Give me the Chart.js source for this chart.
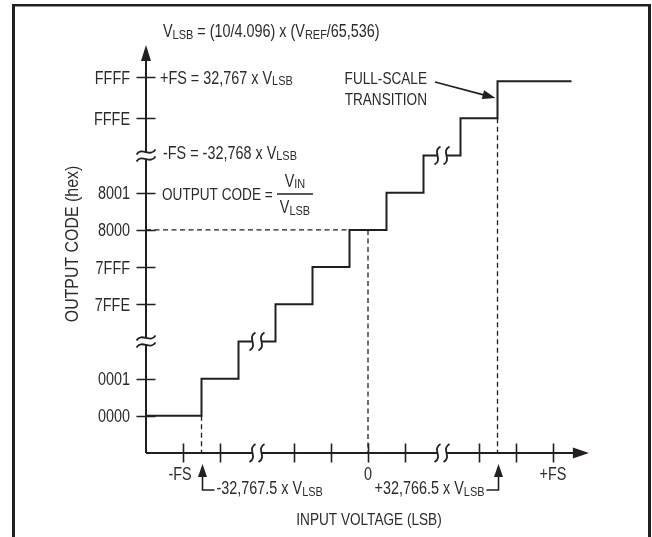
<!DOCTYPE html>
<html>
<head>
<meta charset="utf-8">
<script src="https://cdn.jsdelivr.net/npm/chart.js@4.4.1/dist/chart.umd.min.js"></script>
<style>
  html, body { margin: 0; padding: 0; background: #fff; }
  #wrap { width: 652px; height: 537px; }
</style>
</head>
<body>
<div id="wrap"><canvas id="c" width="652" height="537"></canvas></div>
<script>
// ---- data (axis units: one tick step = 1) ----
const stairX = [0, 1.5, 2.5, 3.5, 4.5, 5.5, 6.5, 7.5, 8.5, 9.5, 11.5];
const stairY = [1, 2, 3, 4, 5, 6, 7, 8, 9, 10, 10];
const guideMidH = [[0, 6], [5.5, 6]];
const guideLeftV = [[1.5, 1], [1.5, 0]];
const guideZeroV = [[6, 6], [6, 0]];
const guideRightV = [[9.5, 9], [9.5, 0]];
const yTickValues = [1, 2, 4, 5, 6, 7, 9, 10.1];
const yTickLabels = ['0000', '0001', '7FFE', '7FFF', '8000', '8001', 'FFFE', 'FFFF'];
const xTickValues = [1, 2, 4, 5, 6, 7, 9, 10, 11];
const xLabelValues = [1, 6, 11];
const xLabelTexts = ['-FS', '0', '+FS'];
const breakValues = [3, 8];
const xAxisEnd = 11.97;
const yAxisEnd = 10.97;

const INK = '#231f20';
const TXT = '#2b2b2b';
const FONT = '"Liberation Sans", Arial, sans-serif';
const SX = 0.8;

function toPts(a) { return a.map(p => ({ x: p[0], y: p[1] })); }

function rich(ctx, segs, x, y, align, size, sx) {
  const k = sx || SX;
  const sub = size * 0.76;
  const ws = segs.map(s => {
    ctx.font = (s[1] ? sub : size) + 'px ' + FONT;
    return ctx.measureText(s[0]).width * k;
  });
  const w = ws.reduce((a, b) => a + b, 0);
  let cx = align === 'right' ? x - w : align === 'center' ? x - w / 2 : x;
  ctx.fillStyle = TXT;
  ctx.textAlign = 'left';
  ctx.textBaseline = 'alphabetic';
  segs.forEach((s, i) => {
    ctx.save();
    ctx.font = (s[1] ? sub : size) + 'px ' + FONT;
    ctx.translate(cx, y + (s[1] ? 1.5 : 0));
    ctx.scale(k, 1);
    ctx.fillText(s[0], 0, 0);
    ctx.restore();
    cx += ws[i];
  });
  return w;
}

function tri(ctx, pts) {
  ctx.beginPath();
  ctx.moveTo(pts[0][0], pts[0][1]);
  ctx.lineTo(pts[1][0], pts[1][1]);
  ctx.lineTo(pts[2][0], pts[2][1]);
  ctx.closePath();
  ctx.fill();
}

// vertical squiggle pair interrupting a horizontal line
function breakOnH(ctx, cx, cy) {
  ctx.fillStyle = '#fff';
  ctx.fillRect(cx - 4, cy - 3, 8, 6);
  ctx.strokeStyle = INK;
  ctx.lineWidth = 1.8;
  [cx - 4.5, cx + 4.5].forEach(x => {
    ctx.beginPath();
    ctx.moveTo(x + 3, cy - 9);
    ctx.bezierCurveTo(x - 6, cy - 4, x + 6, cy + 4, x - 3, cy + 9);
    ctx.stroke();
  });
}
// horizontal tilde pair interrupting a vertical line
function breakOnV(ctx, cx, cy) {
  ctx.fillStyle = '#fff';
  ctx.fillRect(cx - 3, cy - 3.5, 6, 7);
  ctx.strokeStyle = INK;
  ctx.lineWidth = 1.8;
  [cy - 3.5, cy + 3.5].forEach(y => {
    ctx.beginPath();
    ctx.moveTo(cx - 9.5, y + 2.5);
    ctx.bezierCurveTo(cx - 4, y - 6, cx + 4, y + 6, cx + 9.5, y - 2.5);
    ctx.stroke();
  });
}

const diagram = {
  id: 'diagram',
  beforeDraw(chart) {
    const ctx = chart.ctx;
    ctx.save();
    ctx.fillStyle = '#fff';
    ctx.fillRect(0, 0, chart.width, chart.height);
    ctx.fillStyle = INK;
    ctx.fillRect(12, 4, 639, 2.5);
    ctx.fillRect(12, 4, 3, 533);
    ctx.fillRect(648, 4, 3, 533);
    ctx.restore();
  },
  beforeDatasetsDraw(chart) {
    const ctx = chart.ctx;
    const xs = chart.scales.x, ys = chart.scales.y;
    const x0 = xs.getPixelForValue(0), y0 = ys.getPixelForValue(0);
    const xe = xs.getPixelForValue(xAxisEnd), ye = ys.getPixelForValue(yAxisEnd);
    ctx.save();
    ctx.strokeStyle = INK;
    ctx.fillStyle = INK;
    ctx.lineWidth = 2;
    ctx.beginPath();
    ctx.moveTo(x0, y0); ctx.lineTo(x0, ye + 10);
    ctx.moveTo(x0, y0); ctx.lineTo(xe - 10, y0);
    ctx.stroke();
    tri(ctx, [[x0, ye], [x0 - 5, ye + 16], [x0 + 5, ye + 16]]);
    tri(ctx, [[xe, y0], [xe - 16, y0 - 5.5], [xe - 16, y0 + 5.5]]);
    ctx.lineWidth = 1.6;
    ctx.beginPath();
    yTickValues.forEach(v => {
      const y = Math.round(ys.getPixelForValue(v)) + 0.5;
      ctx.moveTo(x0 - 9.5, y); ctx.lineTo(x0 + 9.5, y);
    });
    xTickValues.forEach(v => {
      const x = Math.round(xs.getPixelForValue(v)) + 0.5;
      ctx.moveTo(x, y0 - 9.5); ctx.lineTo(x, y0 + 9.5);
    });
    ctx.stroke();
    ctx.restore();
  },
  afterDatasetsDraw(chart) {
    const ctx = chart.ctx;
    const xs = chart.scales.x, ys = chart.scales.y;
    const X = v => xs.getPixelForValue(v), Y = v => ys.getPixelForValue(v);
    const x0 = X(0), y0 = Y(0);
    ctx.save();
    // breaks
    breakValues.forEach(v => {
      breakOnV(ctx, x0, Y(v));
      breakOnH(ctx, X(v), y0);
      breakOnH(ctx, X(v), Y(v));
    });
    // tick labels
    yTickValues.forEach((v, i) => rich(ctx, [[yTickLabels[i]]], 130, Y(v) + 6.5, 'right', 18));
    xLabelValues.forEach((v, i) => rich(ctx, [[xLabelTexts[i]]], X(v) - (i === 0 ? 3 : 0), 480, 'center', 18));
    // axis titles
    rich(ctx, [['INPUT VOLTAGE (LSB)']], 369, 525, 'center', 17);
    ctx.save();
    ctx.translate(78, 244);
    ctx.rotate(-Math.PI / 2);
    rich(ctx, [['OUTPUT CODE (hex)']], 0, 0, 'center', 18.5, 0.86);
    ctx.restore();
    // annotations
    rich(ctx, [['V'], ['LSB', 1], [' = (10/4.096) x (V'], ['REF', 1], ['/65,536)']], 163, 37, 'left', 18);
    rich(ctx, [['+FS = 32,767 x V'], ['LSB', 1]], 160, 83.5, 'left', 18);
    rich(ctx, [['-FS = -32,768 x V'], ['LSB', 1]], 163, 158.5, 'left', 18);
    rich(ctx, [['OUTPUT CODE =']], 162, 200, 'left', 17);
    rich(ctx, [['V'], ['IN', 1]], 295, 186.5, 'center', 18);
    rich(ctx, [['V'], ['LSB', 1]], 295, 213, 'center', 18);
    ctx.strokeStyle = INK;
    ctx.lineWidth = 1.5;
    ctx.beginPath(); ctx.moveTo(277, 194); ctx.lineTo(313, 194); ctx.stroke();
    rich(ctx, [['FULL-SCALE']], 427, 84, 'right', 17);
    rich(ctx, [['TRANSITION']], 427, 105, 'right', 17);
    // full-scale arrow
    const ax = X(9.5) - 2, ay = 98;
    ctx.lineWidth = 1.8;
    ctx.beginPath(); ctx.moveTo(435, 82); ctx.lineTo(ax - 10, ay - 2.7); ctx.stroke();
    ctx.fillStyle = INK;
    const ang = Math.atan2(ay - 82, ax - 435);
    const L = 13, W = 4.5;
    const bx = ax - L * Math.cos(ang), by = ay - L * Math.sin(ang);
    tri(ctx, [[ax, ay], [bx + W * Math.sin(ang), by - W * Math.cos(ang)], [bx - W * Math.sin(ang), by + W * Math.cos(ang)]]);
    // bottom callouts
    const lx = Math.round(X(1.5)) + 0.5, rx = Math.round(X(9.5)) + 0.5;
    ctx.lineWidth = 1.6;
    ctx.beginPath();
    ctx.moveTo(lx, 472); ctx.lineTo(lx, 490); ctx.lineTo(lx + 12, 490);
    ctx.moveTo(rx, 472); ctx.lineTo(rx, 490); ctx.lineTo(rx - 12, 490);
    ctx.stroke();
    tri(ctx, [[lx, 464], [lx - 4.5, 477], [lx + 4.5, 477]]);
    tri(ctx, [[rx, 464], [rx - 4.5, 477], [rx + 4.5, 477]]);
    rich(ctx, [['-32,767.5 x V'], ['LSB', 1]], lx + 14, 494, 'left', 18);
    rich(ctx, [['+32,766.5 x V'], ['LSB', 1]], rx - 14, 494, 'right', 18);
    ctx.restore();
  }
};

const dashStyle = { borderColor: INK, borderWidth: 1.3, borderDash: [5, 3.5], pointRadius: 0, showLine: true, fill: false, clip: false };

new Chart(document.getElementById('c'), {
  type: 'scatter',
  data: {
    datasets: [
      Object.assign({ data: toPts(guideMidH) }, dashStyle),
      Object.assign({ data: toPts(guideLeftV) }, dashStyle),
      Object.assign({ data: toPts(guideZeroV) }, dashStyle),
      Object.assign({ data: toPts(guideRightV) }, dashStyle),
      {
        data: stairX.map((x, i) => ({ x: x, y: stairY[i] })),
        showLine: true, stepped: 'before', borderColor: INK, borderWidth: 2,
        pointRadius: 0, fill: false, clip: false
      }
    ]
  },
  options: {
    responsive: false,
    animation: false,
    events: [],
    layout: { padding: { left: 146, right: 62, top: 44, bottom: 84 } },
    plugins: { legend: { display: false }, tooltip: { enabled: false } },
    scales: {
      x: { type: 'linear', min: 0, max: 12, display: false },
      y: { type: 'linear', min: 0, max: 11, display: false }
    }
  },
  plugins: [diagram]
});
</script>
</body>
</html>
